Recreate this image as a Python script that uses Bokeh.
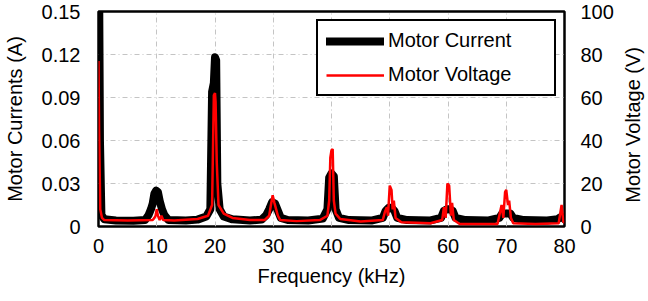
from bokeh.plotting import figure
from bokeh.layouts import row
from bokeh.models import Range1d, LinearAxis, FixedTicker, Legend, LegendItem, Div
from bokeh.embed import file_html
from bokeh.resources import INLINE

# ---- data ----
cur_freq = [0, 0.25, 0.5, 1, 3, 6, 8, 8.6, 9.0, 9.3, 9.6, 9.9, 10.2, 10.5, 10.9, 11.3, 12,
            15, 17, 18.5, 19.2, 19.5, 19.8, 20.0, 20.2, 20.4, 20.8, 21.5, 23,
            26, 28, 28.8, 29.3, 29.8, 30.3, 30.8, 31.3, 32.5,
            36, 38.5, 39.3, 39.6, 40.0, 40.4, 40.7, 41.3, 43,
            47, 48.8, 49.3, 49.8, 50.3, 50.8, 51.3, 53,
            57, 58.8, 59.3, 59.8, 60.3, 60.8, 61.3, 63,
            67, 68.8, 69.3, 70.0, 70.7, 71.2, 73,
            77, 78.8, 79.3, 79.7, 80]
cur_amp = [0.25, 0.06, 0.008, 0.005, 0.0042, 0.004, 0.0045, 0.008, 0.012, 0.016, 0.023, 0.025, 0.024, 0.018, 0.012, 0.008, 0.0045,
           0.0042, 0.0048, 0.007, 0.012, 0.094, 0.100, 0.118, 0.116, 0.030, 0.012, 0.007, 0.005,
           0.0042, 0.0048, 0.008, 0.012, 0.017, 0.016, 0.011, 0.006, 0.0045,
           0.0042, 0.0055, 0.012, 0.034, 0.037, 0.035, 0.012, 0.006, 0.0045,
           0.0042, 0.006, 0.011, 0.013, 0.013, 0.011, 0.006, 0.0045,
           0.0042, 0.006, 0.011, 0.012, 0.012, 0.011, 0.006, 0.0045,
           0.0042, 0.006, 0.009, 0.009, 0.009, 0.006, 0.0045,
           0.0042, 0.005, 0.0065, 0.0065, 0.005]

volt_freq = [0, 0.1, 0.3, 0.6, 1, 5, 9.3, 9.6, 9.8, 10.0, 10.2, 10.5, 10.8, 11.1, 13,
             17, 18.8, 19.5, 19.8, 20.0, 20.1, 20.3, 20.6, 21.5, 23,
             26, 28.5, 29.3, 29.6, 29.9, 30.2, 30.5, 30.8, 31.2,
             34, 38, 39.3, 39.6, 39.8, 40.0, 40.2, 40.4, 40.7, 41.5,
             45, 48.8, 49.2, 49.5, 49.7, 50.0, 50.3, 50.5, 50.7, 51.0, 52,
             57, 59.0, 59.3, 59.6, 59.9, 60.2, 60.5, 60.7, 61.0, 62,
             68.5, 69.2, 69.5, 69.8, 70.0, 70.3, 70.5, 70.8, 71.2,
             75, 79.0, 79.5, 79.8, 80]
volt_amp = [77, 45, 8, 4, 3, 2.8, 3, 4, 5, 8, 5, 3, 5, 3, 2.8,
            3.5, 5, 10, 61, 62, 58, 30, 10, 6, 4,
            3, 3, 5, 10, 14.5, 11, 8, 5, 3,
            2.5, 3, 5, 12, 32, 35.5, 36, 12, 6, 3.5,
            2.3, 3, 7, 9, 5, 19, 17, 8, 12, 4, 2,
            1.5, 3, 9, 4, 20, 19, 5, 11, 3, 1.2,
            1.2, 10, 4, 16, 17, 10, 12, 4, 1.5,
            1.2, 1.5, 10, 2, 2]

x_ticks = [0, 10, 20, 30, 40, 50, 60, 70, 80]
cur_ticks = [0, 0.03, 0.06, 0.09, 0.12, 0.15]
volt_ticks = [0, 20, 40, 60, 80, 100]

FONT = "Liberation Sans"
FS = "20px"

p = figure(width=616, height=293, output_backend="svg", toolbar_location=None,
           x_range=Range1d(0, 80), y_range=Range1d(0, 0.15))
p.extra_y_ranges = {"v": Range1d(0, 100)}
p.min_border_left = 97
p.min_border_right = 52
p.min_border_top = 11
p.min_border_bottom = 67
p.outline_line_color = "black"
p.outline_line_width = 2.5
p.background_fill_color = "white"

# grids
p.xgrid.ticker = FixedTicker(ticks=x_ticks[1:-1])
p.ygrid.ticker = FixedTicker(ticks=cur_ticks[1:-1])
for g in (p.xgrid, p.ygrid):
    g.grid_line_color = "#c4c4c4"
    g.grid_line_dash = "5 3 1 3"
    g.grid_line_width = 1

r1 = p.line(cur_freq, cur_amp, line_color="black", line_width=8,
            line_join="round", line_cap="round")
r2 = p.line(volt_freq, volt_amp, y_range_name="v", line_color="red", line_width=2.5)

def style(ax):
    ax.axis_line_color = None
    ax.major_tick_line_color = None
    ax.minor_tick_line_color = None
    ax.major_tick_out = 0
    ax.major_tick_in = 0
    ax.major_label_text_font = FONT
    ax.major_label_text_font_size = FS
    ax.major_label_text_color = "black"
    ax.axis_label_text_font = FONT
    ax.axis_label_text_font_size = FS
    ax.axis_label_text_font_style = "normal"
    ax.axis_label_text_color = "black"

xa = p.xaxis[0]
style(xa)
xa.ticker = FixedTicker(ticks=x_ticks)
xa.axis_label = "Frequency (kHz)"
xa.major_label_standoff = 12
xa.axis_label_standoff = 9

ya = p.yaxis[0]
style(ya)
ya.ticker = FixedTicker(ticks=cur_ticks)
ya.major_label_overrides = {0: "0"}
ya.axis_label = "Motor Currents (A)"
ya.major_label_standoff = 18
ya.axis_label_standoff = 13

ra = LinearAxis(y_range_name="v", ticker=FixedTicker(ticks=volt_ticks))
style(ra)
ra.major_label_standoff = 16
p.add_layout(ra, "right")

legend = Legend(items=[LegendItem(label="Motor Current", renderers=[r1]),
                       LegendItem(label="Motor Voltage", renderers=[r2])],
                location=(218, 130))
legend.border_line_color = "black"
legend.border_line_alpha = 1.0
legend.border_line_width = 2
legend.background_fill_color = "white"
legend.background_fill_alpha = 1
legend.padding = 8
legend.spacing = 11
legend.label_height = 20
legend.glyph_height = 20
legend.glyph_width = 58
legend.label_standoff = 4
legend.label_width = 158
legend.label_text_font = FONT
legend.label_text_font_size = FS
legend.label_text_color = "black"
p.add_layout(legend)

right_title = Div(
    text=('<div style="width:24px;height:217px;margin-top:11px;display:flex;'
          'align-items:center;justify-content:center;">'
          '<span style="writing-mode:vertical-rl;transform:rotate(180deg);'
          "font-family:'Liberation Sans';font-size:20px;color:black;white-space:nowrap;"
          '">Motor Voltage (V)</span></div>'),
    width=24, height=293)

layout = row(p, right_title, spacing=0)

open("out.html", "w").write(file_html(layout, INLINE))
